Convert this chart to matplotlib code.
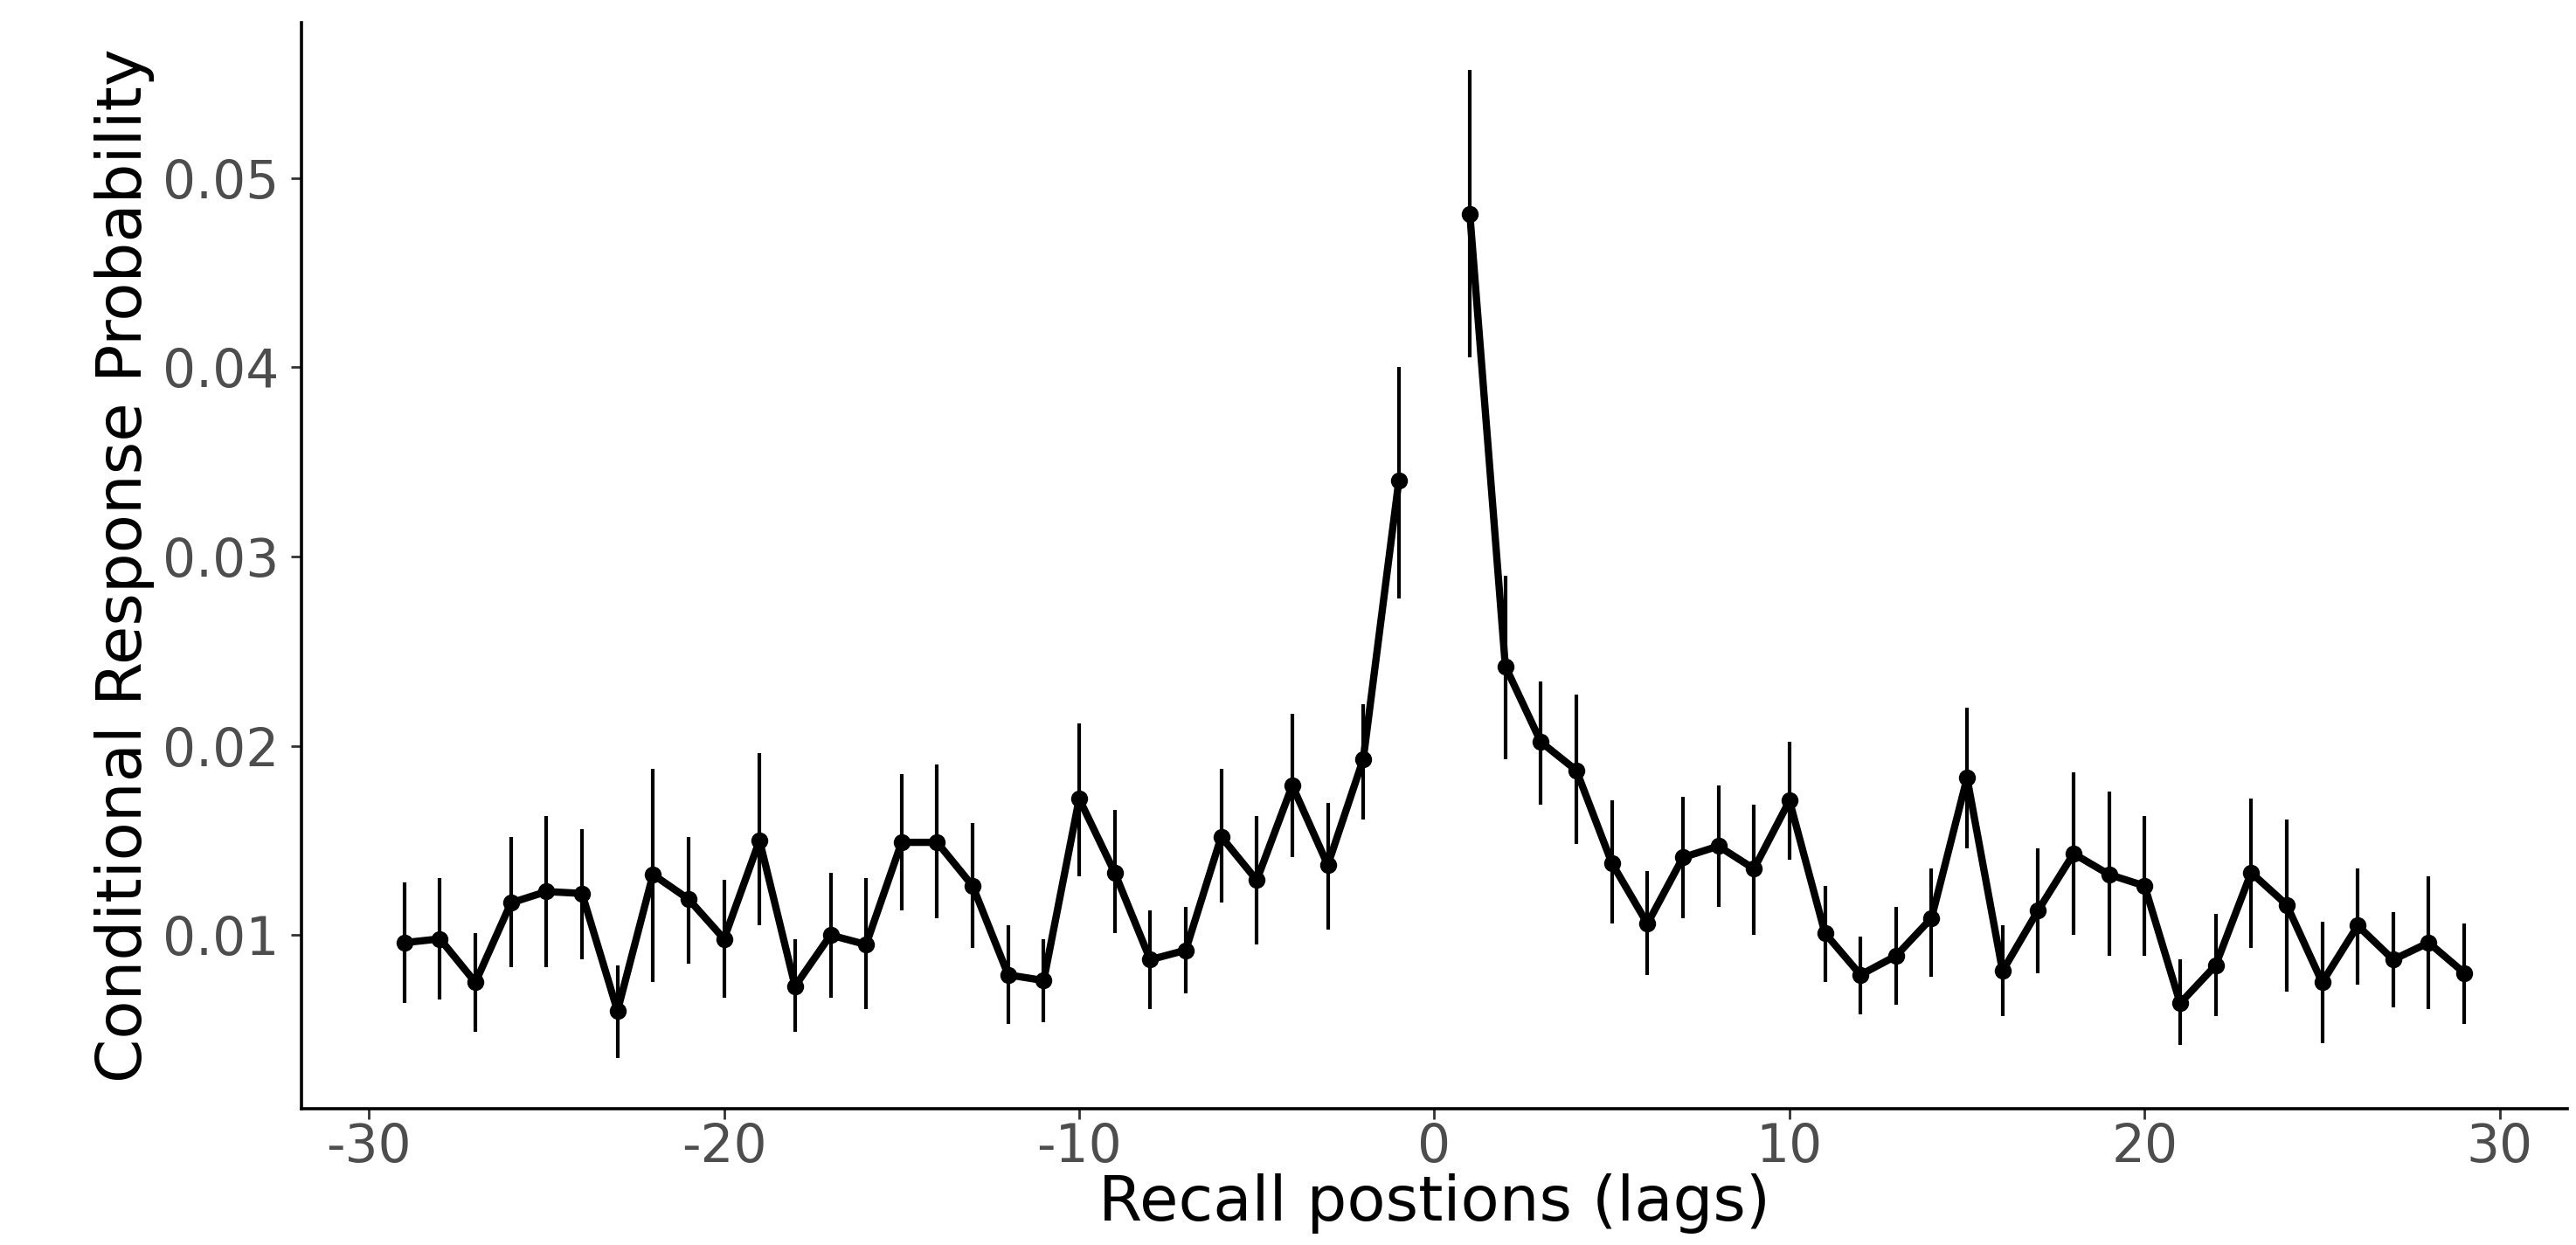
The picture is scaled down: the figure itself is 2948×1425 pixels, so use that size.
import numpy as np
import matplotlib
matplotlib.use("Agg")
import matplotlib.pyplot as plt

# lag-CRP values (lag 0 not plotted)
neg_lags = list(range(-29, 0))
pos_lags = list(range(1, 30))

neg_crp = [0.0096, 0.0098, 0.0075, 0.0117, 0.0123, 0.0122, 0.0060, 0.0132, 0.0119, 0.0098,
           0.0150, 0.0073, 0.0100, 0.0095, 0.0149, 0.0149, 0.0126, 0.0079, 0.0076, 0.0172,
           0.0133, 0.0087, 0.0092, 0.0152, 0.0129, 0.0179, 0.0137, 0.0193, 0.0340]
pos_crp = [0.0481, 0.0242, 0.0202, 0.0187, 0.0138, 0.0106, 0.0141, 0.0147, 0.0135, 0.0171,
           0.0101, 0.0079, 0.0089, 0.0109, 0.0183, 0.0081, 0.0113, 0.0143, 0.0132, 0.0126,
           0.0064, 0.0084, 0.0133, 0.0116, 0.0075, 0.0105, 0.0087, 0.0096, 0.0080]

neg_upper = [0.0128, 0.0130, 0.0101, 0.0152, 0.0163, 0.0156, 0.0084, 0.0188, 0.0152, 0.0129,
             0.0196, 0.0098, 0.0133, 0.0130, 0.0185, 0.0190, 0.0159, 0.0105, 0.0098, 0.0212,
             0.0166, 0.0113, 0.0115, 0.0188, 0.0163, 0.0217, 0.0170, 0.0222, 0.0400]
pos_upper = [0.0557, 0.0290, 0.0234, 0.0227, 0.0171, 0.0134, 0.0173, 0.0179, 0.0169, 0.0202,
             0.0126, 0.0099, 0.0115, 0.0135, 0.0220, 0.0105, 0.0146, 0.0186, 0.0176, 0.0163,
             0.0087, 0.0111, 0.0172, 0.0161, 0.0107, 0.0135, 0.0112, 0.0131, 0.0106]

neg_lower = [0.0064, 0.0066, 0.0049, 0.0083, 0.0083, 0.0087, 0.0035, 0.0075, 0.0085, 0.0067,
             0.0105, 0.0049, 0.0067, 0.0061, 0.0113, 0.0109, 0.0093, 0.0053, 0.0054, 0.0131,
             0.0101, 0.0061, 0.0069, 0.0117, 0.0095, 0.0141, 0.0103, 0.0161, 0.0278]
pos_lower = [0.0405, 0.0193, 0.0169, 0.0148, 0.0106, 0.0079, 0.0109, 0.0115, 0.0100, 0.0140,
             0.0075, 0.0058, 0.0063, 0.0078, 0.0146, 0.0057, 0.0080, 0.0100, 0.0089, 0.0089,
             0.0042, 0.0057, 0.0093, 0.0070, 0.0043, 0.0074, 0.0062, 0.0061, 0.0053]

x_ticks = [-30, -20, -10, 0, 10, 20, 30]
y_ticks = [0.01, 0.02, 0.03, 0.04, 0.05]

plt.rcParams['font.family'] = ['DejaVu Sans']
plt.rcParams['axes.unicode_minus'] = False

fig = plt.figure(figsize=(14.74, 7.125), dpi=200)
ax = fig.add_axes([0.117, 0.1095, 0.8796, 0.8723])

for lags, crp, lo, hi in [(neg_lags, neg_crp, neg_lower, neg_upper),
                          (pos_lags, pos_crp, pos_lower, pos_upper)]:
    ax.vlines(lags, lo, hi, color='black', linewidth=1.5)
    ax.plot(lags, crp, color='black', linewidth=3.0, marker='o', markersize=6)

ax.set_xlim(-31.9, 31.9)
ax.set_ylim(0.00083, 0.0582)
ax.set_xticks(x_ticks)
ax.set_xticklabels([str(t) for t in x_ticks])
ax.set_yticks(y_ticks)
ax.set_yticklabels(['%.2f' % t for t in y_ticks])

for side in ['top', 'right']:
    ax.spines[side].set_visible(False)
for side in ['left', 'bottom']:
    ax.spines[side].set_linewidth(1.3)
    ax.spines[side].set_color('black')

ax.tick_params(axis='both', length=4.3, width=1.0, color='#333333',
               labelsize=21.5, labelcolor='#4D4D4D')
ax.tick_params(axis='x', pad=1)
ax.tick_params(axis='y', pad=5)

ax.set_xlabel('Recall postions (lags)', fontsize=26, color='black', labelpad=0)
ax.set_ylabel('Conditional Response Probability', fontsize=26, color='black', labelpad=3)

fig.savefig('out.png', dpi=200, facecolor='white')
